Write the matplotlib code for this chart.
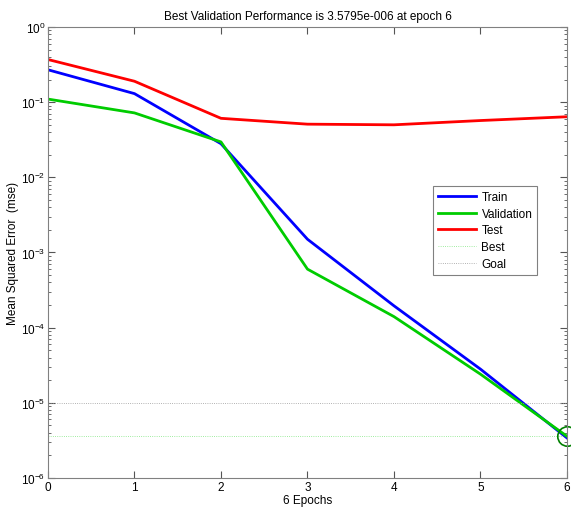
import matplotlib
matplotlib.use("Agg")
import matplotlib.pyplot as plt

plt.rcParams['font.family'] = ['Liberation Sans', 'DejaVu Sans']

epochs = [0, 1, 2, 3, 4, 5, 6]
train = [0.27, 0.13, 0.028, 1.5e-3, 1.95e-4, 2.8e-5, 3.4e-6]
validation = [0.11, 0.072, 0.0296, 6.0e-4, 1.4e-4, 2.4e-5, 3.5795e-6]
test = [0.37, 0.19, 0.061, 0.051, 0.050, 0.057, 0.064]
best_epoch = 6
best_perf = 3.5795e-6
goal = 1e-5

fig = plt.figure(figsize=(5.71, 5.10), dpi=100)
ax = fig.add_axes([0.084, 0.061, 0.909, 0.884])

ax.semilogy(epochs, train, color='#0000ff', lw=2, label='Train')
ax.semilogy(epochs, validation, color='#00cc00', lw=2, label='Validation')
ax.semilogy(epochs, test, color='#ff0000', lw=2, label='Test')
ax.axhline(best_perf, color='#00cc00', lw=0.6, ls=':', alpha=0.5, label='Best')
ax.axhline(goal, color='#999999', lw=0.6, ls=':', label='Goal')
ax.plot([best_epoch], [best_perf], 'o', ms=14, mfc='none', mec='#008000', mew=1.2, clip_on=False)

ax.set_xlim(0, 6)
ax.set_ylim(1e-6, 1e0)
ax.set_xticks(epochs)
ax.tick_params(which='both', direction='in', top=True, right=True, labelsize=8.5,
               colors='#555555', labelcolor='black', pad=2)
ax.tick_params(which='major', length=5)
ax.tick_params(which='minor', length=2.5)
for s in ax.spines.values():
    s.set_color('#808080')

ax.set_title('Best Validation Performance is 3.5795e-006 at epoch 6', fontsize=8.5, pad=6)
ax.set_xlabel('6 Epochs', fontsize=8.5, labelpad=1)
ax.set_ylabel('Mean Squared Error  (mse)', fontsize=8.5, labelpad=1)

leg = ax.legend(loc='upper left', bbox_to_anchor=(0.742, 0.647), borderaxespad=0, fontsize=8.5,
                fancybox=False, framealpha=1, edgecolor='#808080',
                handlelength=3.2, borderpad=0.4, labelspacing=0.4, handletextpad=0.5)
leg.get_frame().set_linewidth(0.8)

fig.savefig('out.png', dpi=100)
